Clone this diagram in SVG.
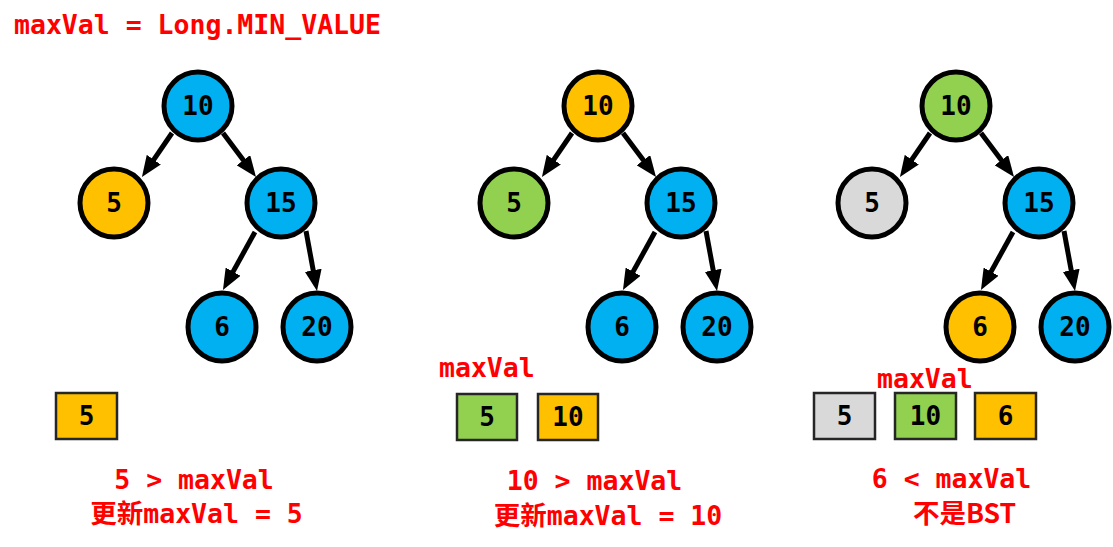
<svg xmlns="http://www.w3.org/2000/svg" width="1113" height="547" viewBox="0 0 1113 547">
<style>
.n{stroke:#000;stroke-width:5}
.b{stroke:#262626;stroke-width:2.5}
.t{font-family:"DejaVu Sans Mono","Liberation Mono","Noto Sans CJK SC",monospace;font-weight:bold;font-size:26px;fill:#000;text-anchor:middle}
.r{font-family:"DejaVu Sans Mono","Liberation Mono","Noto Sans CJK SC",monospace;font-weight:bold;font-size:26.5px;fill:#FF0000}
.rc{text-anchor:middle}
.e{stroke:#000;stroke-width:5;fill:none;marker-end:url(#ah)}
.blue{fill:#00B0F0}.orange{fill:#FFC000}.green{fill:#92D050}.gray{fill:#D9D9D9}
</style>
<defs>
<marker id="ah" markerUnits="userSpaceOnUse" markerWidth="21" markerHeight="17" viewBox="0 0 21 17" refX="6" refY="8.5" orient="auto">
<path d="M0,0 L21,8.5 L0,17 z" fill="#000"/>
</marker>
</defs>
<rect width="1113" height="547" fill="#fff"/>
<text class="r" x="14" y="34">maxVal = Long.MIN_VALUE</text>

<g id="connectors">
<g id="edges1">
<line class="e" x1="172" y1="133" x2="150.4" y2="164.6"/>
<line class="e" x1="223" y1="133" x2="247" y2="165"/>
<line class="e" x1="255" y1="232" x2="230.2" y2="276.9"/>
<line class="e" x1="306" y1="231" x2="314.3" y2="276.2"/>
</g>
<g id="edges2" transform="translate(400,0)">
<line class="e" x1="172" y1="133" x2="150.4" y2="164.6"/>
<line class="e" x1="223" y1="133" x2="247" y2="165"/>
<line class="e" x1="255" y1="232" x2="230.2" y2="276.9"/>
<line class="e" x1="306" y1="231" x2="314.3" y2="276.2"/>
</g>
<g id="edges3" transform="translate(758,0)">
<line class="e" x1="172" y1="133" x2="150.4" y2="164.6"/>
<line class="e" x1="223" y1="133" x2="247" y2="165"/>
<line class="e" x1="255" y1="232" x2="230.2" y2="276.9"/>
<line class="e" x1="306" y1="231" x2="314.3" y2="276.2"/>
</g>
</g>

<g id="tree1">
<g id="t1n10"><circle class="n blue" cx="198" cy="106" r="34"/><text class="t" x="198" y="115">10</text></g>
<g id="t1n5"><circle class="n orange" cx="114" cy="203" r="34"/><text class="t" x="114" y="212">5</text></g>
<g id="t1n15"><circle class="n blue" cx="281" cy="203" r="34"/><text class="t" x="281" y="212">15</text></g>
<g id="t1n6"><circle class="n blue" cx="222" cy="327" r="34"/><text class="t" x="222" y="336">6</text></g>
<g id="t1n20"><circle class="n blue" cx="317" cy="327" r="34"/><text class="t" x="317" y="336">20</text></g>
<g id="t1box5"><rect class="b orange" x="56" y="393" width="61" height="46"/><text class="t" x="86.5" y="425">5</text></g>
<text class="r rc" x="194" y="489">5 &gt; maxVal</text>
<text class="r rc" x="196.5" y="523">更新maxVal = 5</text>
</g>

<g id="tree2">
<g id="t2n10"><circle class="n orange" cx="598" cy="106" r="34"/><text class="t" x="598" y="115">10</text></g>
<g id="t2n5"><circle class="n green" cx="514" cy="203" r="34"/><text class="t" x="514" y="212">5</text></g>
<g id="t2n15"><circle class="n blue" cx="681" cy="203" r="34"/><text class="t" x="681" y="212">15</text></g>
<g id="t2n6"><circle class="n blue" cx="622" cy="327" r="34"/><text class="t" x="622" y="336">6</text></g>
<g id="t2n20"><circle class="n blue" cx="717" cy="327" r="34"/><text class="t" x="717" y="336">20</text></g>
<text class="r" x="439" y="377">maxVal</text>
<g id="t2box5"><rect class="b green" x="457" y="394" width="60" height="46"/><text class="t" x="487" y="426">5</text></g>
<g id="t2box10"><rect class="b orange" x="538" y="394" width="60" height="46"/><text class="t" x="568" y="426">10</text></g>
<text class="r rc" x="594.5" y="490">10 &gt; maxVal</text>
<text class="r rc" x="608" y="525">更新maxVal = 10</text>
</g>

<g id="tree3">
<g id="t3n10"><circle class="n green" cx="956" cy="106" r="34"/><text class="t" x="956" y="115">10</text></g>
<g id="t3n5"><circle class="n gray" cx="872" cy="203" r="34"/><text class="t" x="872" y="212">5</text></g>
<g id="t3n15"><circle class="n blue" cx="1039" cy="203" r="34"/><text class="t" x="1039" y="212">15</text></g>
<g id="t3n6"><circle class="n orange" cx="980" cy="327" r="34"/><text class="t" x="980" y="336">6</text></g>
<g id="t3n20"><circle class="n blue" cx="1075" cy="327" r="34"/><text class="t" x="1075" y="336">20</text></g>
<text class="r" x="877" y="388">maxVal</text>
<g id="t3box5"><rect class="b gray" x="814" y="393" width="61" height="46"/><text class="t" x="844.5" y="425">5</text></g>
<g id="t3box10"><rect class="b green" x="895" y="393" width="61" height="46"/><text class="t" x="925.5" y="425">10</text></g>
<g id="t3box6"><rect class="b orange" x="975" y="393" width="61" height="46"/><text class="t" x="1005.5" y="425">6</text></g>
<text class="r rc" x="951.5" y="488">6 &lt; maxVal</text>
<text class="r rc" x="964.5" y="523" style="font-family:'Noto Sans CJK SC',sans-serif">不是BST</text>
</g>
</svg>
